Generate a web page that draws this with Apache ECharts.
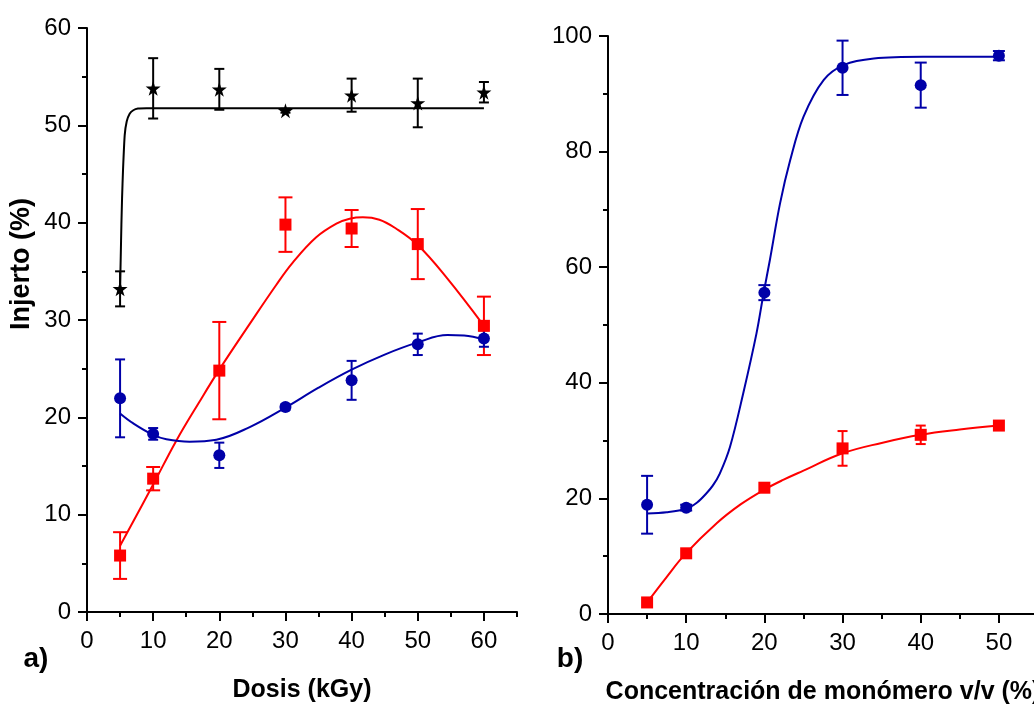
<!DOCTYPE html>
<html>
<head>
<meta charset="utf-8">
<script src="https://cdn.jsdelivr.net/npm/echarts@6/dist/echarts.min.js"></script>
<style>
html,body{margin:0;padding:0;background:#fff;}
#chart{width:1034px;height:706px;}
</style>
</head>
<body>
<div id="chart"></div>
<script>
// ---------- data ----------
const doseX = [5, 10, 20, 30, 40, 50, 60];
const blackY = [33.2, 53.8, 53.7, 51.5, 53.1, 52.3, 53.4];
const blackErr = [1.8, 3.1, 2.1, 0.2, 1.7, 2.5, 1.05];
const redAY = [5.8, 13.7, 24.8, 39.8, 39.4, 37.8, 29.4];
const redAErr = [2.4, 1.2, 5.0, 2.8, 1.9, 3.6, 3.0];
const blueAY = [21.95, 18.3, 16.1, 21.05, 23.8, 27.5, 28.1];
const blueAErr = [4.0, 0.6, 1.3, 0.3, 2.0, 1.1, 0.85];

const concX = [5, 10, 20, 30, 40, 50];
const blueBY = [18.9, 18.4, 55.6, 94.5, 91.5, 96.6];
const blueBErr = [5.0, 0.5, 1.3, 4.7, 3.9, 0.8];
const redBY = [2.0, 10.5, 21.85, 28.65, 31.0, 32.6];
const redBErr = [0.3, 0.4, 0.6, 3.0, 1.6, 0.7];

// fitted curves, points
const blackFit = [[5,33.2],[5.1,36.5],[5.2,39.8],[5.3,42.5],[5.45,45.5],[5.7,49.0],[6.0,50.4],[6.45,51.2],[7.0,51.55],[7.7,51.72],[9,51.75],[60,51.75]];
const redAFit = [[5,6.8],[10,13.1],[13.5,17.6],[17,21.6],[20,24.9],[24.6,29.6],[28.6,33.6],[31.1,35.9],[34.65,38.5],[37.7,39.9],[39.7,40.4],[41.7,40.55],[44.2,40.3],[46.7,39.4],[50,37.7],[54.3,34.4],[60,29.4]];
const blueAFit = [[5,20.4],[6.95,19.4],[10,18.2],[12,17.75],[15.5,17.5],[19.55,17.7],[24.6,19.0],[30,21.0],[35,23.05],[40,24.9],[45,26.45],[50,27.7],[54.5,28.45],[57,28.4],[60,28.0]];
const blueBFit = [[5,17.4],[7.5,17.6],[10,18.2],[11.4,19.3],[12.6,20.9],[13.4,22.2],[14.3,24.3],[15.6,28.9],[17.3,38.2],[19,48.6],[19.9,55.5],[20.7,61.2],[22,71],[23.3,78.5],[25,86],[27.6,92.4],[30.2,95],[34,96.1],[40.3,96.4],[50,96.4]];
const redBFit = [[5,2.0],[7.5,6.4],[9.9,10.4],[13.9,15.7],[17,19.0],[19.9,21.45],[22.4,23.2],[25,24.8],[30,27.8],[35,29.6],[40,31.0],[45,31.9],[50,32.6]];

// tick label values
const doseTicks = [0, 10, 20, 30, 40, 50, 60];
const doseMinor = [5, 15, 25, 35, 45, 55, 65];
const concTicks = [0, 10, 20, 30, 40, 50];
const concMinor = [5, 15, 25, 35, 45, 55];

const xTitleA = 'Dosis (kGy)';
const xTitleB = 'Concentración de monómero v/v (%)';
const yTitle = 'Injerto (%)';

// ---------- styling ----------
const FONT = 'Arial, "Liberation Sans", sans-serif';
const BLUE = '#0000A8';
const RED = '#FF0000';
const BLACK = '#000000';
const STAR = 'path://M50,0 L61,35 L98,35 L68,57 L79,91 L50,70 L21,91 L32,57 L2,35 L39,35 Z';

const zip = (xs, ys) => xs.map((x, i) => [x, ys[i]]);
const errData = (xs, ys, es) => xs.map((x, i) => [x, ys[i] - es[i], ys[i] + es[i]]);

function errSeries(name, xs, ys, es, color, cap, xi) {
  return {
    name: name, type: 'custom', xAxisIndex: xi, yAxisIndex: xi, z: 3, silent: true,
    encode: { x: 0, y: [1, 2] },
    data: errData(xs, ys, es),
    renderItem: function (params, api) {
      const x = api.value(0);
      const lo = api.coord([x, api.value(1)]);
      const hi = api.coord([x, api.value(2)]);
      const st = { stroke: color, lineWidth: 2 };
      return {
        type: 'group',
        children: [
          { type: 'line', shape: { x1: lo[0], y1: lo[1], x2: hi[0], y2: hi[1] }, style: st },
          { type: 'line', shape: { x1: hi[0] - cap, y1: hi[1], x2: hi[0] + cap, y2: hi[1] }, style: st },
          { type: 'line', shape: { x1: lo[0] - cap, y1: lo[1], x2: lo[0] + cap, y2: lo[1] }, style: st }
        ]
      };
    }
  };
}
function fitSeries(data, color, xi, smooth) {
  return { type: 'line', xAxisIndex: xi, yAxisIndex: xi, data: data, showSymbol: false, symbol: 'none',
    smooth: smooth, silent: true, z: 2,
    lineStyle: { color: color, width: 2 } };
}
function ptSeries(xs, ys, symbol, size, color, xi) {
  return { type: 'scatter', xAxisIndex: xi, yAxisIndex: xi, data: zip(xs, ys), symbol: symbol,
    symbolSize: size, itemStyle: { color: color, opacity: 1 }, z: 4, silent: true };
}

const axisLineStyle = { show: true, lineStyle: { color: BLACK, width: 2 } };
const labelStyle = { color: BLACK, fontSize: 24, fontFamily: FONT };

function mainX(grid, max, ticks, name) {
  return {
    type: 'value', gridIndex: grid, min: 0, max: max, interval: 10, position: 'bottom',
    axisLine: Object.assign({ onZero: false }, axisLineStyle),
    axisTick: { show: true, customValues: ticks, length: 9, lineStyle: { color: BLACK, width: 2 } },
    axisLabel: Object.assign({ margin: 17, customValues: ticks }, labelStyle),
    splitLine: { show: false },
    name: name, nameLocation: 'middle', nameGap: 66,
    nameTextStyle: { color: BLACK, fontSize: 25, fontWeight: 'bold', fontFamily: FONT }
  };
}
function minorX(grid, max, ticks) {
  return {
    type: 'value', gridIndex: grid, min: 0, max: max, interval: 5, position: 'bottom',
    axisLine: { show: false, onZero: false },
    axisTick: { show: true, customValues: ticks, length: 5, lineStyle: { color: BLACK, width: 2 } },
    axisLabel: { show: false }, splitLine: { show: false }
  };
}
function mainY(grid, max, interval) {
  return {
    type: 'value', gridIndex: grid, min: 0, max: max, interval: interval,
    axisLine: Object.assign({ onZero: false }, axisLineStyle),
    axisTick: { show: true, length: 9, lineStyle: { color: BLACK, width: 2 } },
    minorTick: { show: true, splitNumber: 2, length: 5, lineStyle: { color: BLACK, width: 2 } },
    axisLabel: Object.assign({ margin: 16 }, labelStyle),
    splitLine: { show: false }, minorSplitLine: { show: false }
  };
}

const option = {
  backgroundColor: '#ffffff',
  animation: false,
  grid: [
    { left: 87, top: 28, width: 430, height: 584, containLabel: false, outerBoundsMode: 'none' },
    { left: 608, top: 36, width: 430, height: 578, containLabel: false, outerBoundsMode: 'none' }
  ],
  xAxis: [
    mainX(0, 65, doseTicks, xTitleA),
    mainX(1, 55, concTicks, xTitleB),
    minorX(0, 65, doseMinor),
    minorX(1, 55, concMinor)
  ],
  yAxis: [ mainY(0, 60, 10), mainY(1, 100, 20) ],
  graphic: [
    { type: 'text', x: 22, y: 264, rotation: Math.PI / 2, z: 10,
      style: { text: yTitle, fill: BLACK, font: 'bold 27px ' + FONT, align: 'center', verticalAlign: 'middle' } },
    { type: 'text', x: 36, y: 659, z: 10,
      style: { text: 'a)', fill: BLACK, font: 'bold 28px ' + FONT, align: 'center', verticalAlign: 'middle' } },
    { type: 'text', x: 570, y: 659, z: 10,
      style: { text: 'b)', fill: BLACK, font: 'bold 28px ' + FONT, align: 'center', verticalAlign: 'middle' } }
  ],
  series: [
    fitSeries(blackFit, BLACK, 0, 0.2),
    fitSeries(redAFit, RED, 0, 0.4),
    fitSeries(blueAFit, BLUE, 0, 0.4),
    fitSeries(blueBFit, BLUE, 1, 0.35),
    fitSeries(redBFit, RED, 1, 0.4),
    errSeries('err-black', doseX, blackY, blackErr, BLACK, 5, 0),
    errSeries('err-redA', doseX, redAY, redAErr, RED, 7, 0),
    errSeries('err-blueA', doseX, blueAY, blueAErr, BLUE, 5, 0),
    errSeries('err-blueB', concX, blueBY, blueBErr, BLUE, 6, 1),
    errSeries('err-redB', concX, redBY, redBErr, RED, 5, 1),
    ptSeries(doseX, blackY, STAR, 15, BLACK, 0),
    ptSeries(doseX, redAY, 'rect', 12, RED, 0),
    ptSeries(doseX, blueAY, 'circle', 12, BLUE, 0),
    ptSeries(concX, blueBY, 'circle', 12, BLUE, 1),
    ptSeries(concX, redBY, 'rect', 12, RED, 1)
  ]
};

const chart = echarts.init(document.getElementById('chart'), null, { renderer: 'canvas' });
chart.setOption(option);
</script>
</body>
</html>
